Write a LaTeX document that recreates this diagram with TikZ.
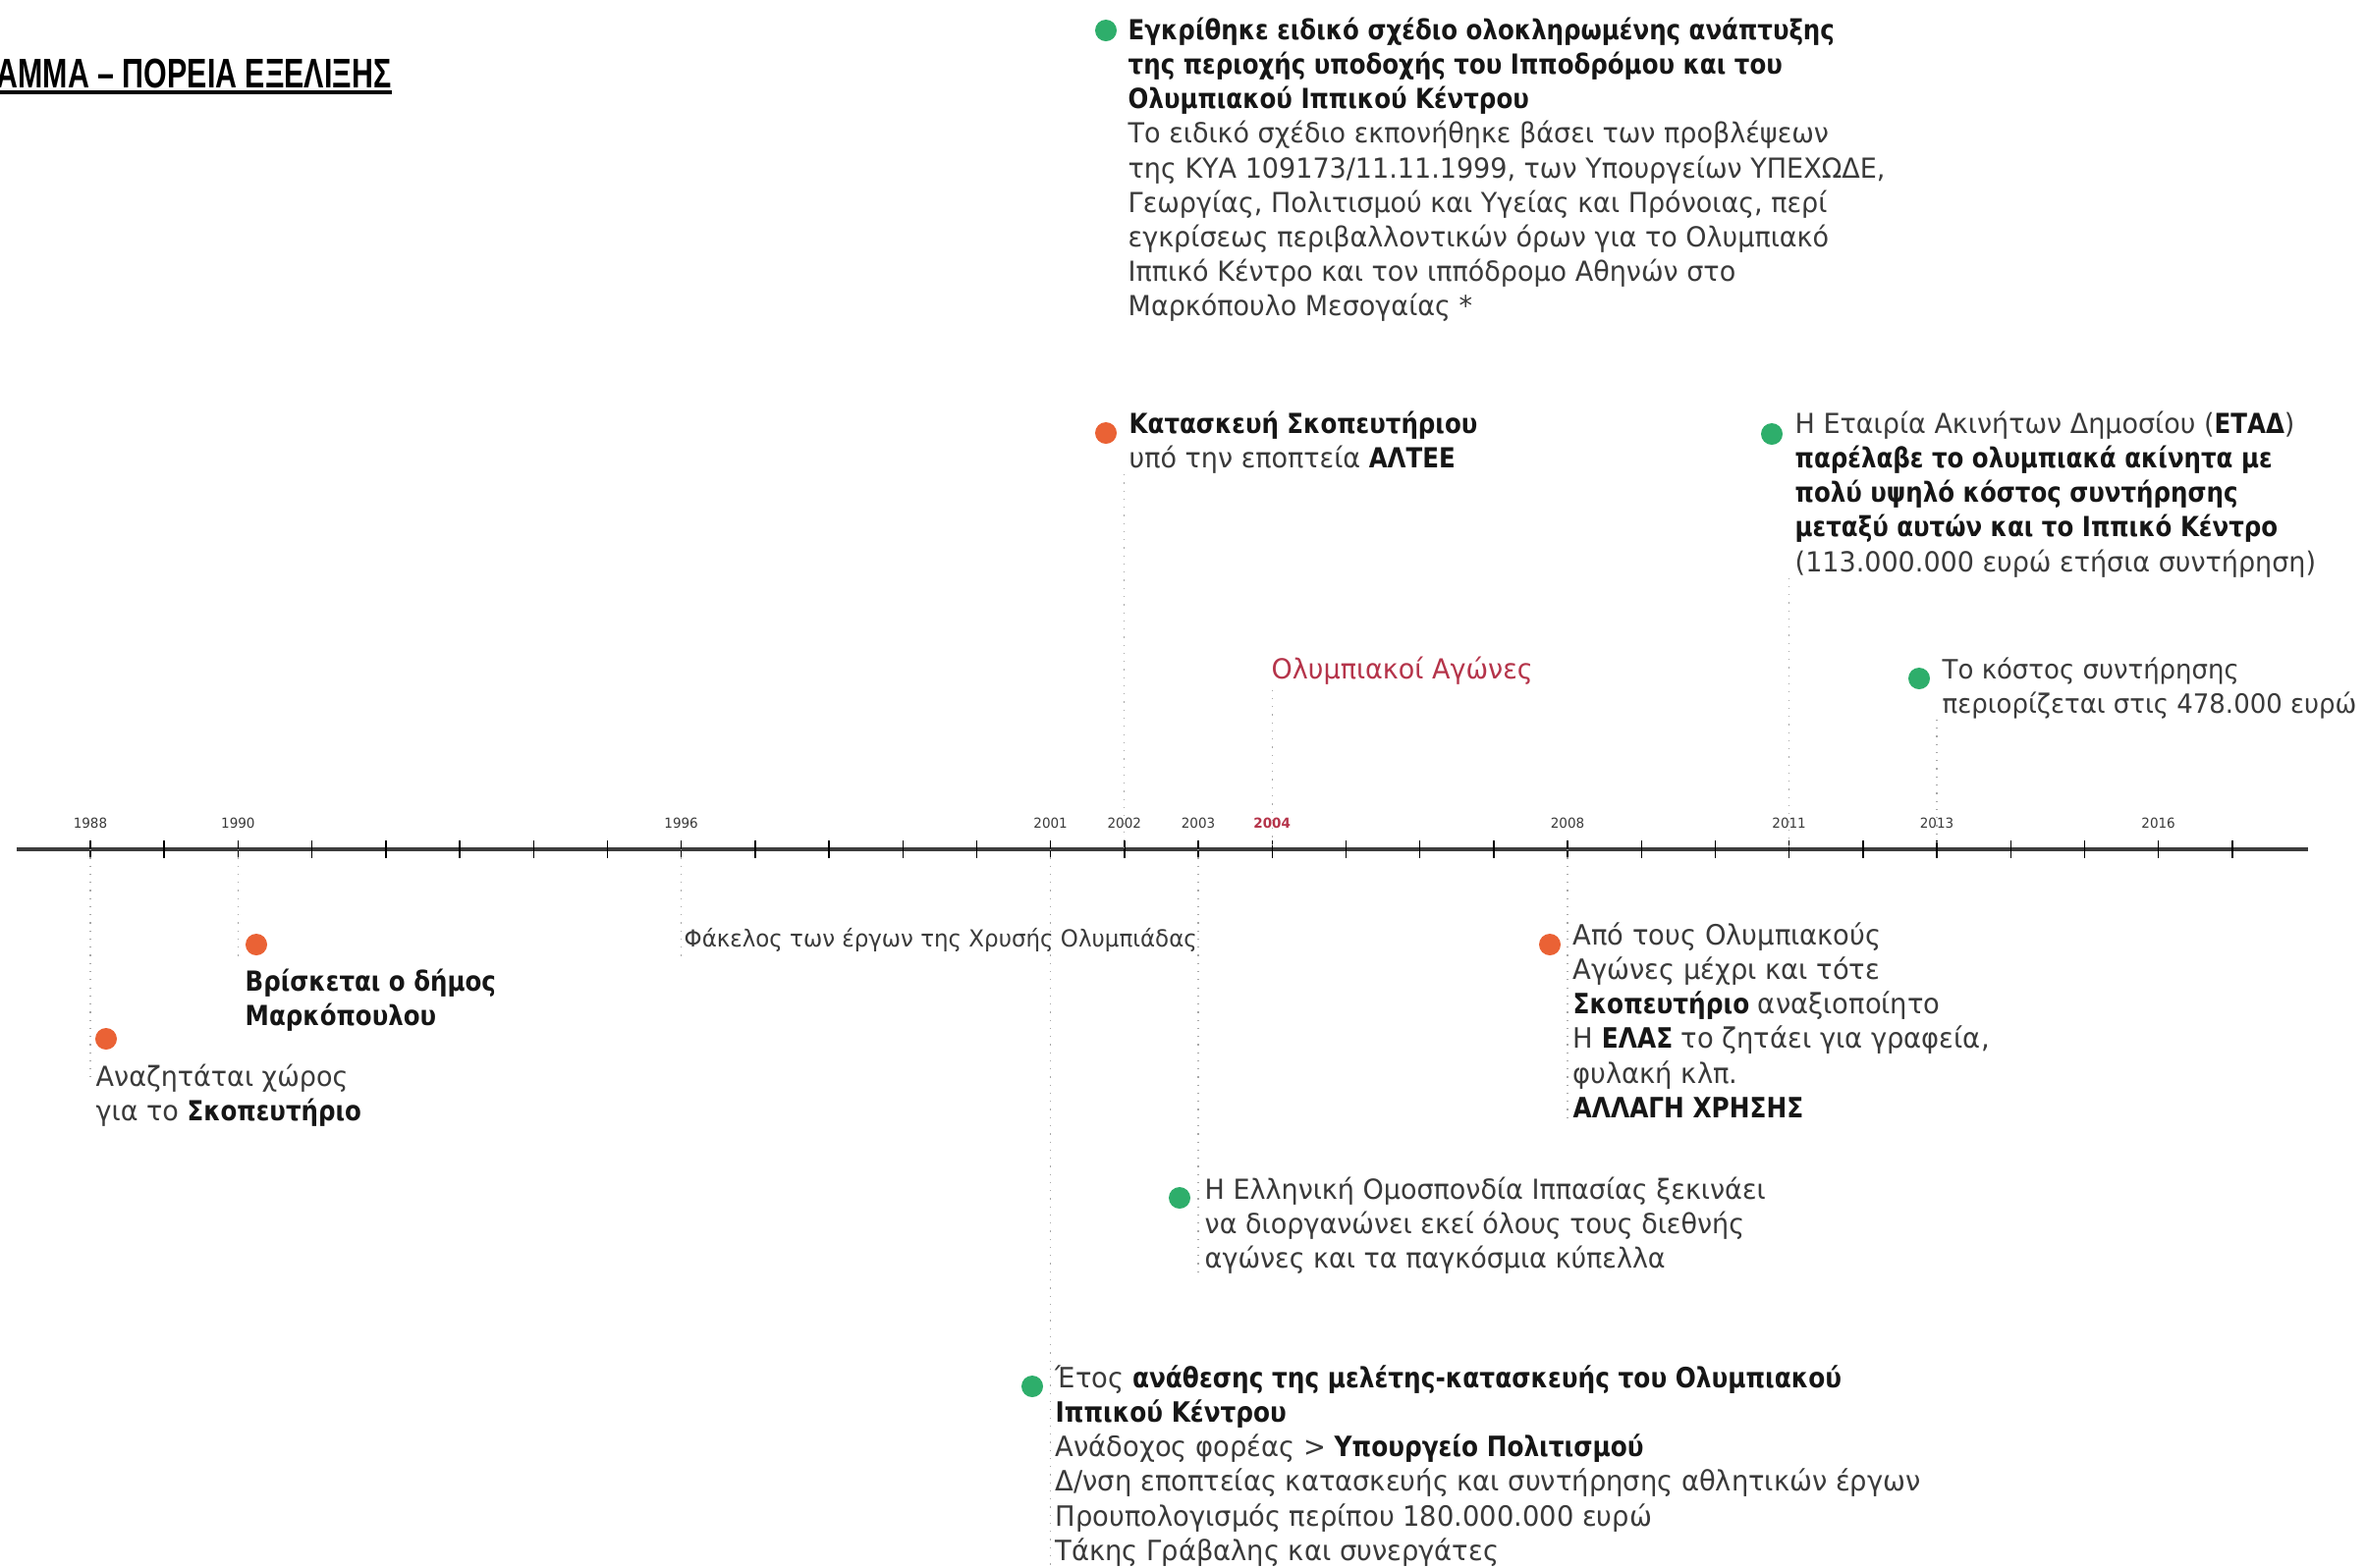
\documentclass[tikz,border=0pt]{standalone}
\usepackage{fontspec}
\setmainfont{DejaVu Sans}[FakeStretch=0.96]
\newfontfamily\hvfont{DejaVu Sans}[FakeStretch=0.87]
\newfontfamily\titelfont{Liberation Sans}
\usetikzlibrary{calc}
\definecolor{gruen}{HTML}{2EAE6B}
\definecolor{orangerot}{HTML}{EA6235}
\definecolor{weinrot}{HTML}{B5344A}
\definecolor{schrift}{HTML}{3A3A3A}
\definecolor{fett}{HTML}{161616}
\definecolor{achsgrau}{HTML}{3C3C3C}
\definecolor{hilfgrau}{HTML}{A8A8A8}
\newcommand{\hv}[1]{{\hvfont\bfseries\color{fett}#1}}
\tikzset{
  achse/.style={achsgrau,line width=1.1pt},
  strich/.style={black,line width=0.4pt},
  hilf/.style={hilfgrau,dotted,line width=0.35pt},
  punkt/.style={circle,inner sep=0pt,minimum size=0.22cm},
  pg/.style={punkt,fill=gruen},
  po/.style={punkt,fill=orangerot},
  jahr/.style={font=\fontsize{4}{5}\selectfont,text=schrift,inner sep=0pt},
  ereignis/.style={anchor=north west,align=left,inner sep=0pt,text=schrift,font=\fontsize{8}{10}\selectfont},
}

\begin{document}
\begin{tikzpicture}[x=0.01cm,y=-0.01cm]
  \useasboundingbox[fill=white] (0,0) rectangle (2409,1596);
  \node[anchor=base west,inner sep=0pt,font=\titelfont\bfseries\fontsize{12}{14}\selectfont] (titel) at (-4,89) {\scalebox{0.72}[1]{ΑΜΜΑ – ΠΟΡΕΙΑ ΕΞΕΛΙΞΗΣ}};
  \draw[line width=0.9pt] ($(titel.base west)+(0,5)$) -- ($(titel.base east)+(0,5)$);

  \draw[achse] (17,865) -- (2350,865);
  \foreach \j in {1988,...,2017} {
    \coordinate (j\j) at ({92+75.2*(\j-1988)},865);
    \draw[strich] (j\j) ++(0,-9) -- ++(0,18);
  }
  \foreach \j in {1988,1990,1996,2001,2002,2003,2008,2011,2013,2016}
    \node[jahr] (l\j) at (j\j |- 0,838) {\j};
  \node[jahr,text=weinrot] (l2004) at (j2004 |- 0,838) {\bfseries 2004};

  \node[pg] (p2002a) at (1126,31) {};
  \node[ereignis] (t2002a) at (1148,15) {\strut\hv{Εγκρίθηκε ειδικό σχέδιο ολοκληρωμένης ανάπτυξης}\\
    \hv{της περιοχής υποδοχής του Ιπποδρόμου και του}\\
    \hv{Ολυμπιακού Ιππικού Κέντρου}\\
    Το ειδικό σχέδιο εκπονήθηκε βάσει των προβλέψεων\\
    της ΚΥΑ 109173/11.11.1999, των Υπουργείων ΥΠΕΧΩΔΕ,\\
    Γεωργίας, Πολιτισμού και Υγείας και Πρόνοιας, περί\\
    εγκρίσεως περιβαλλοντικών όρων για το Ολυμπιακό\\
    Ιππικό Κέντρο και τον ιππόδρομο Αθηνών στο\\
    Μαρκόπουλο Μεσογαίας *};

  \node[po] (p2002b) at (1126,441) {};
  \node[ereignis] (t2002b) at (1149,416) {\strut\hv{Κατασκευή Σκοπευτήριου}\\
    υπό την εποπτεία \hv{ΑΛΤΕΕ}};
  \draw[hilf] (j2002 |- t2002b.south) -- (j2002);

  \node[ereignis,text=weinrot] (t2004) at (1294,666) {\strut Ολυμπιακοί Αγώνες};
  \draw[hilf] (j2004 |- t2004.south) -- (j2004);

  \node[pg] (p2011) at (1804,442) {};
  \node[ereignis] (t2011) at (1827,416) {\strut Η Εταιρία Ακινήτων Δημοσίου (\hv{ΕΤΑΔ})\\
    \hv{παρέλαβε το ολυμπιακά ακίνητα με}\\
    \hv{πολύ υψηλό κόστος συντήρησης}\\
    \hv{μεταξύ αυτών και το Ιππικό Κέντρο}\\
    (113.000.000 ευρώ ετήσια συντήρηση)};
  \draw[hilf] (j2011 |- t2011.south) -- (j2011);

  \node[pg] (p2013) at (1954,691) {};
  \node[ereignis,font=\fontsize{7.7}{10}\selectfont] (t2013) at (1977,666) {\strut Το κόστος συντήρησης\\
    περιορίζεται στις 478.000 ευρώ};
  \draw[hilf] (j2013 |- t2013.south) -- (j2013);

  \node[po] (p1988) at (108,1058) {};
  \node[ereignis] (t1988) at (97,1081) {\strut Αναζητάται χώρος\\
    για το \hv{Σκοπευτήριο}};
  \draw[hilf] (j1988) -- ($(t1988.north west -| j1988)+(0,16)$);

  \node[po] (p1990) at (261,962) {};
  \node[ereignis] (t1990) at (249,984) {\strut\hv{Βρίσκεται ο δήμος}\\
    \hv{Μαρκόπουλου}};
  \draw[hilf] (j1990) -- (j1990 |- p1990.south);

  \node[ereignis,font=\fontsize{6.8}{8.5}\selectfont] (t1996) at (696,943) {\strut Φάκελος των έργων της Χρυσής Ολυμπιάδας};
  \draw[hilf] (j1996) -- (j1996 |- t1996.south);

  \node[pg] (p2001) at (1051,1412) {};
  \node[ereignis,font=\fontsize{8.1}{10}\selectfont] (t2001) at (1074,1388) {\strut Έτος \hv{ανάθεσης της μελέτης-κατασκευής του Ολυμπιακού}\\
    \hv{Ιππικού Κέντρου}\\
    Ανάδοχος φορέας > \hv{Υπουργείο Πολιτισμού}\\
    Δ/νση εποπτείας κατασκευής και συντήρησης αθλητικών έργων\\
    Προυπολογισμός περίπου 180.000.000 ευρώ\\
    Τάκης Γράβαλης και συνεργάτες};
  \draw[hilf] (j2001) -- (j2001 |- t2001.south);

  \node[pg] (p2003) at (1201,1220) {};
  \node[ereignis] (t2003) at (1226,1196) {\strut Η Ελληνική Ομοσπονδία Ιππασίας ξεκινάει\\
    να διοργανώνει εκεί όλους τους διεθνής\\
    αγώνες και τα παγκόσμια κύπελλα};
  \draw[hilf] (j2003) -- (j2003 |- t2003.south);

  \node[po] (p2008) at (1578,962) {};
  \node[ereignis,font=\fontsize{8.1}{10}\selectfont] (t2008) at (1601,937) {\strut Από τους Ολυμπιακούς\\
    Αγώνες μέχρι και τότε\\
    \hv{Σκοπευτήριο} αναξιοποίητο\\
    Η \hv{ΕΛΑΣ} το ζητάει για γραφεία,\\
    φυλακή κλπ.\\
    \hv{ΑΛΛΑΓΗ ΧΡΗΣΗΣ}};
  \draw[hilf] (j2008) -- (j2008 |- t2008.south);
\end{tikzpicture}
\end{document}
